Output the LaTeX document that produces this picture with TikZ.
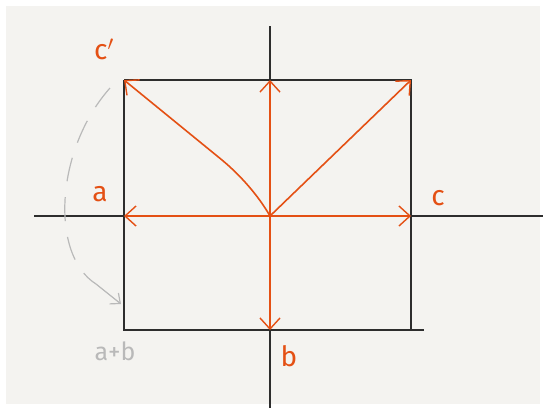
\documentclass[tikz,border=0pt]{standalone}
\usepackage{fontspec}
\setmainfont{Fira Sans}
\usetikzlibrary{arrows.meta}
\definecolor{org}{RGB}{228,80,20}
\definecolor{ink}{RGB}{45,45,45}
\definecolor{bg}{RGB}{244,243,240}
\definecolor{gr}{RGB}{185,185,185}
\begin{document}
\begin{tikzpicture}[x=1pt,y=-1pt,
  axis/.style={ink,line width=1.8pt},
  edge/.style={ink,line width=1.8pt},
  vec/.style={org,line width=1.6pt,-{Straight Barb[length=11pt,width=20pt,line width=1.4pt]}},
  lab/.style={org,font=\fontsize{28}{28}\selectfont,inner sep=0pt},
  glab/.style={gr,font=\fontsize{25}{25}\selectfont,inner sep=0pt}]
\useasboundingbox (0,0) rectangle (546,410);
\fill[white] (0,0) rectangle (546,410);
\fill[bg] (6,6) rectangle (540,404);
% named points
\coordinate (O) at (270,216);
\coordinate (A) at (124,216);
\coordinate (C) at (411,216);
\coordinate (B) at (270,330);
\coordinate (U) at (270,80);
\coordinate (TL) at (124,80);
\coordinate (TR) at (411,80);
\coordinate (BL) at (124,330);
\coordinate (BR) at (411,330);
\coordinate (xl) at (34,216);
\coordinate (xr) at (543,216);
\coordinate (yt) at (270,26);
\coordinate (yb) at (270,408);
\coordinate (tre) at (424,330);
\coordinate (bend) at (222,160);
\coordinate (arcS) at (110,88);
\coordinate (arcE) at (121,304);
\coordinate (arcP) at (96,284);
% axes
\draw[axis] (xl) -- (xr);
\draw[axis] (yt) -- (yb);
% rectangle
\draw[edge] (TL) -- (TR) -- (BR);
\draw[edge] (TL) -- (BL) -- (tre);
% vectors
\draw[vec] (O) -- (A);
\draw[vec] (O) -- (C);
\draw[vec] (O) -- (U);
\draw[vec] (O) -- (B);
\draw[vec] (O) .. controls (258,195) and (240,175) .. (bend) -- (TL);
\draw[vec] (O) -- (TR);
% dashed arc
\draw[gr,line width=1.2pt,dash pattern=on 24pt off 16pt]
  (arcS) .. controls (55,150) and (50,255) .. (arcP);
\draw[gr,line width=1.2pt,-{Straight Barb[length=8pt,width=14pt,line width=1.2pt]}]
  (arcP) -- (arcE);
% labels
\node[lab] (lc') at (104,49) {c$'$};
\node[lab] (la) at (100,194) {a};
\node[lab] (lc) at (438,198) {c};
\node[lab] (lb) at (289,356) {b};
\node[glab] (lab2) at (115,351) {a+b};
\end{tikzpicture}
\end{document}
